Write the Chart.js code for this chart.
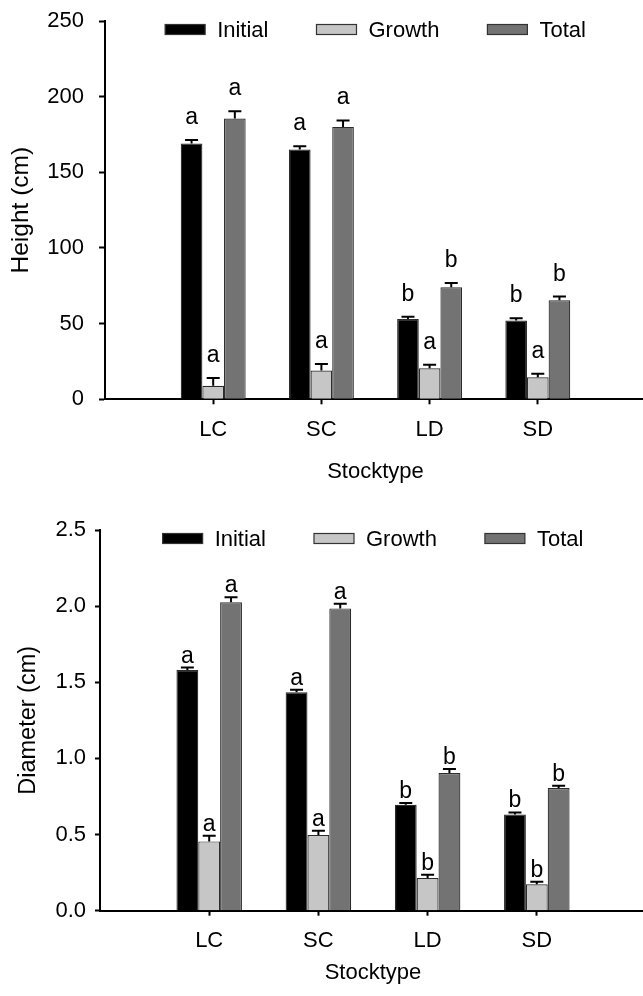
<!DOCTYPE html>
<html lang="en">
<head>
  <meta charset="UTF-8" />
  <title>Height and diameter by stocktype</title>
  <style>
    html, body {
      margin: 0;
      padding: 0;
      background: #fff;
      overflow: hidden;
    }
    canvas {
      display: block;
    }
  </style>
</head>
<body>
  <canvas id="heightChart" width="646" height="496"></canvas>
  <canvas id="diameterChart" width="646" height="500"></canvas>

  <script src="https://cdn.jsdelivr.net/npm/chart.js"></script>
  <script>
    const stocktypes = ['LC', 'SC', 'LD', 'SD'];
    const seriesNames = ['Initial', 'Growth', 'Total'];
    const seriesColors = ['#000000', '#c6c6c6', '#737373'];

    // height (cm), means and standard errors
    const heightInitial = [169, 165, 53, 52];
    const heightInitialSe = [2.3, 2.3, 1.5, 1.6];
    const heightGrowth = [9, 19, 20.5, 14.5];
    const heightGrowthSe = [5, 4.4, 2.4, 2.4];
    const heightTotal = [185.5, 180, 74, 65.5];
    const heightTotalSe = [4.8, 4.3, 2.8, 2.4];
    const heightInitialLetters = ['a', 'a', 'b', 'b'];
    const heightGrowthLetters = ['a', 'a', 'a', 'a'];
    const heightTotalLetters = ['a', 'a', 'b', 'b'];
    const heightTicks = [0, 50, 100, 150, 200, 250];

    // diameter (cm)
    const diamInitial = [1.58, 1.435, 0.695, 0.632];
    const diamInitialSe = [0.017, 0.016, 0.013, 0.013];
    const diamGrowth = [0.455, 0.497, 0.215, 0.173];
    const diamGrowthSe = [0.037, 0.028, 0.021, 0.017];
    const diamTotal = [2.025, 1.985, 0.904, 0.806];
    const diamTotalSe = [0.033, 0.031, 0.026, 0.015];
    const diamInitialLetters = ['a', 'a', 'b', 'b'];
    const diamGrowthLetters = ['a', 'a', 'b', 'b'];
    const diamTotalLetters = ['a', 'a', 'b', 'b'];
    const diamTicks = [0, 0.5, 1.0, 1.5, 2.0, 2.5];

    const FONT = '"Liberation Sans", Arial, Helvetica, sans-serif';

    // empty slot on each side of the four groups
    const pad = arr => [null, ...arr, null];
    const xLabels = pad(stocktypes).map(v => v || '');

    const errorBarPlugin = {
      id: 'errorBars',
      afterDatasetsDraw(chart) {
        const ctx = chart.ctx;
        const yScale = chart.scales.y;
        const gap = chart.options.letterGap;
        chart.data.datasets.forEach((ds, i) => {
          const meta = chart.getDatasetMeta(i);
          meta.data.forEach((bar, j) => {
            const v = ds.data[j];
            if (v == null) return;
            const top = yScale.getPixelForValue(v + ds.errors[j]);
            ctx.save();
            ctx.strokeStyle = '#000';
            ctx.lineWidth = 2;
            ctx.beginPath();
            ctx.moveTo(bar.x, bar.y);
            ctx.lineTo(bar.x, top);
            ctx.moveTo(bar.x - 6.5, top);
            ctx.lineTo(bar.x + 6.5, top);
            ctx.stroke();
            ctx.fillStyle = '#000';
            ctx.font = '23px ' + FONT;
            ctx.textAlign = 'center';
            ctx.textBaseline = 'alphabetic';
            ctx.fillText(ds.letters[j], bar.x, top - gap);
            ctx.restore();
          });
        });
      }
    };

    const legendPlugin = {
      id: 'boxLegend',
      afterDraw(chart) {
        const { ctx, chartArea } = chart;
        const boxW = 40, boxH = 10, textGap = 12, itemGap = 48;
        ctx.save();
        ctx.font = '22px ' + FONT;
        const items = chart.data.datasets.map(ds => ({
          label: ds.label,
          color: ds.backgroundColor,
          w: boxW + textGap + ctx.measureText(ds.label).width
        }));
        const total = items.reduce((s, it) => s + it.w, 0) + itemGap * (items.length - 1);
        let x = (chartArea.left + chartArea.right) / 2 - total / 2;
        const cy = chartArea.top + 8.5;
        items.forEach(it => {
          ctx.fillStyle = it.color;
          ctx.fillRect(x, cy - boxH / 2, boxW, boxH);
          ctx.strokeStyle = '#333';
          ctx.lineWidth = 1.2;
          ctx.strokeRect(x, cy - boxH / 2, boxW, boxH);
          ctx.fillStyle = '#000';
          ctx.textAlign = 'left';
          ctx.textBaseline = 'middle';
          ctx.fillText(it.label, x + boxW + textGap, cy + 1);
          x += it.w + itemGap;
        });
        ctx.restore();
      }
    };

    function makeChart(id, p) {
      const datasets = p.values.map((vals, i) => ({
        label: seriesNames[i],
        data: pad(vals),
        errors: pad(p.errors[i]),
        letters: pad(p.letters[i]),
        backgroundColor: seriesColors[i],
        borderColor: '#2b2b2b',
        borderWidth: 1.2,
        barPercentage: 1,
        categoryPercentage: 0.6
      }));

      return new Chart(document.getElementById(id), {
        type: 'bar',
        data: { labels: xLabels, datasets: datasets },
        options: {
          responsive: false,
          animation: false,
          letterGap: p.letterGap,
          layout: { padding: { top: p.top, left: 0, right: 0, bottom: 0 } },
          plugins: {
            legend: { display: false },
            tooltip: { enabled: false }
          },
          scales: {
            x: {
              type: 'category',
              offset: false,
              grid: {
                offset: false,
                drawOnChartArea: false,
                drawTicks: true,
                tickLength: 5,
                tickWidth: 2,
                tickColor: c => (c.index === 0 || c.index === xLabels.length - 1) ? 'rgba(0,0,0,0)' : '#000'
              },
              border: { display: true, color: '#000', width: 2 },
              ticks: {
                color: '#000',
                font: { family: FONT, size: 22 },
                padding: 12,
                maxRotation: 0,
                autoSkip: false
              },
              title: {
                display: true,
                text: 'Stocktype',
                color: '#000',
                font: { family: FONT, size: 22 },
                padding: { top: 0, bottom: p.xTitlePad }
              },
              afterFit: s => {
                s.height = p.xHeight;
                s.paddingLeft = 0;
                s.paddingRight = 0;
              }
            },
            y: {
              min: p.ticks[0],
              max: p.ticks[p.ticks.length - 1],
              afterBuildTicks: s => { s.ticks = p.ticks.map(v => ({ value: v })); },
              grid: {
                drawOnChartArea: false,
                drawTicks: true,
                tickLength: p.tickLen,
                tickWidth: 2,
                tickColor: '#000'
              },
              border: { display: true, color: '#000', width: 2 },
              ticks: {
                color: '#000',
                font: { family: FONT, size: 22 },
                padding: p.yTickPad,
                callback: p.tickFormat
              },
              title: {
                display: true,
                text: p.yTitle,
                color: '#000',
                font: { family: FONT, size: p.yTitleSize },
                padding: { top: p.yTitlePad, bottom: 0 }
              },
              afterFit: s => {
                s.width = p.yWidth;
                s.paddingTop = 0;
                s.paddingBottom = 0;
              }
            }
          }
        },
        plugins: [errorBarPlugin, legendPlugin]
      });
    }

    makeChart('heightChart', {
      values: [heightInitial, heightGrowth, heightTotal],
      errors: [heightInitialSe, heightGrowthSe, heightTotalSe],
      letters: [heightInitialLetters, heightGrowthLetters, heightTotalLetters],
      ticks: heightTicks,
      tickFormat: v => String(v),
      yTitle: 'Height (cm)',
      yTitleSize: 24.5,
      top: 21,
      yWidth: 105,
      xHeight: 96.7,
      tickLen: 6,
      yTickPad: 15,
      yTitlePad: 7,
      xTitlePad: 10.5,
      letterGap: 16
    });

    makeChart('diameterChart', {
      values: [diamInitial, diamGrowth, diamTotal],
      errors: [diamInitialSe, diamGrowthSe, diamTotalSe],
      letters: [diamInitialLetters, diamGrowthLetters, diamTotalLetters],
      ticks: diamTicks,
      tickFormat: v => Number(v).toFixed(1),
      yTitle: 'Diameter (cm)',
      yTitleSize: 23.5,
      top: 34,
      yWidth: 100,
      xHeight: 85.3,
      tickLen: 5,
      yTickPad: 9,
      yTitlePad: 14,
      xTitlePad: 9.5,
      letterGap: 5
    });
  </script>
</body>
</html>
